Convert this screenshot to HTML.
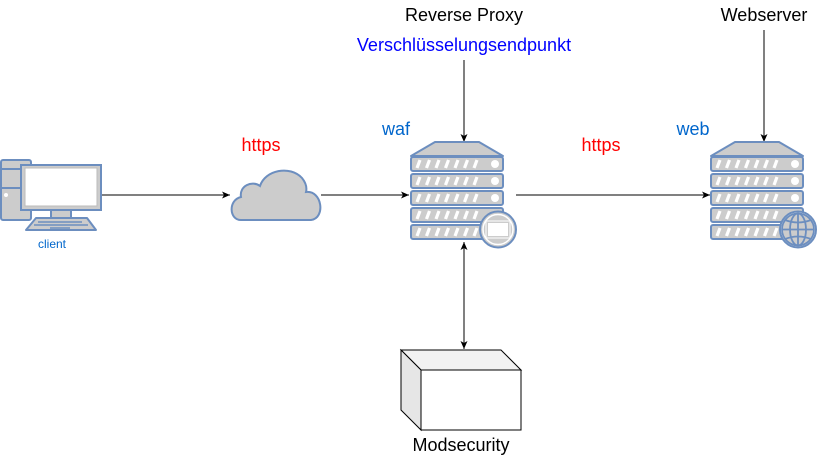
<!DOCTYPE html>
<html><head><meta charset="utf-8"><style>
html,body{margin:0;padding:0;background:#fff;}
svg{display:block;}
text{font-family:"Liberation Sans",Arial,sans-serif;}
</style></head><body>
<svg width="838" height="460" viewBox="0 0 838 460" xmlns="http://www.w3.org/2000/svg">
<defs>
<marker id="ah" markerWidth="10" markerHeight="10" refX="8" refY="5" orient="auto" markerUnits="userSpaceOnUse">
<path d="M0,1.5 L8,5 L0,8.5 L2,5 Z" fill="#000"/>
</marker>
<marker id="ahs" markerWidth="10" markerHeight="10" refX="2" refY="5" orient="auto" markerUnits="userSpaceOnUse">
<path d="M10,1.5 L2,5 L10,8.5 L8,5 Z" fill="#000"/>
</marker>
<g id="rack">
<rect x="0" y="0" width="92" height="14" rx="2" fill="#ccc" stroke="#6c8ebf" stroke-width="2"/>
<g stroke="#fff" stroke-width="3.2">
<line x1="6" y1="11" x2="9" y2="3"/><line x1="15.5" y1="11" x2="18.5" y2="3"/><line x1="25" y1="11" x2="28" y2="3"/><line x1="34.5" y1="11" x2="37.5" y2="3"/><line x1="44" y1="11" x2="47" y2="3"/><line x1="53.5" y1="11" x2="56.5" y2="3"/><line x1="63" y1="11" x2="66" y2="3"/>
</g>
<circle cx="84" cy="7" r="4" fill="#fff"/>
</g>
<g id="server">
<path d="M0,15 L24,1 L68,1 L92,15 Z" fill="#ccc" stroke="#6c8ebf" stroke-width="2" stroke-linejoin="round"/>
<use href="#rack" x="0" y="16"/>
<use href="#rack" x="0" y="33"/>
<use href="#rack" x="0" y="50"/>
<use href="#rack" x="0" y="67"/>
<use href="#rack" x="0" y="84"/>
</g>
</defs>

<!-- connectors -->
<line x1="101" y1="195" x2="230" y2="195" stroke="#000" stroke-width="1" marker-end="url(#ah)"/>
<line x1="321" y1="195" x2="409" y2="195" stroke="#000" stroke-width="1" marker-end="url(#ah)"/>
<line x1="516" y1="195" x2="710" y2="195" stroke="#000" stroke-width="1" marker-end="url(#ah)"/>
<line x1="464" y1="60" x2="464" y2="142" stroke="#000" stroke-width="1" marker-end="url(#ah)"/>
<line x1="764" y1="30" x2="764" y2="142" stroke="#000" stroke-width="1" marker-end="url(#ah)"/>
<line x1="464" y1="242" x2="464" y2="349" stroke="#000" stroke-width="1" marker-end="url(#ah)" marker-start="url(#ahs)"/>

<!-- client -->
<rect x="1" y="160" width="30" height="60" rx="2" fill="#ccc" stroke="#6c8ebf" stroke-width="2"/>
<line x1="1" y1="169" x2="31" y2="169" stroke="#6c8ebf" stroke-width="2"/>
<line x1="1" y1="188" x2="31" y2="188" stroke="#6c8ebf" stroke-width="2"/>
<circle cx="6" cy="195" r="2" fill="#fff"/>
<rect x="51" y="208" width="20" height="10" fill="#ccc" stroke="#6c8ebf" stroke-width="2"/>
<rect x="21" y="165" width="80" height="45" fill="#ccc" stroke="#6c8ebf" stroke-width="2"/>
<rect x="25" y="168" width="72" height="38" fill="#fff" stroke="#bbb" stroke-width="1"/>
<path d="M36,218 L87,218 L96,230 L26,230 Z" fill="#ccc" stroke="#6c8ebf" stroke-width="2" stroke-linejoin="round"/>
<g stroke="#6c8ebf" stroke-width="1.5">
<line x1="38" y1="222" x2="82" y2="222"/>
<line x1="34" y1="225" x2="88" y2="225"/>
<line x1="50" y1="228" x2="70" y2="228"/>
</g>
<text x="52" y="248" font-size="12" fill="#0066cc" text-anchor="middle">client</text>

<!-- cloud -->
<path d="M241,220 C229,220 228,200 241,197 C239,186 252,180 260,186 C265,170 290,165 302,178 C306,183 307,188 306,192 C322,190 326,218 311,220 Z" fill="#ccc" stroke="#6c8ebf" stroke-width="2"/>

<!-- waf server -->
<use href="#server" x="411" y="141"/>
<circle cx="498" cy="229.5" r="18" fill="#ccc" stroke="#6c8ebf" stroke-width="2"/>
<circle cx="498" cy="229.5" r="15" fill="none" stroke="#fff" stroke-width="1.5"/>
<rect x="487" y="222" width="22" height="15" fill="#fff" stroke="#ccc" stroke-width="2"/>
<rect x="486" y="221" width="24" height="17" fill="none" stroke="#fff" stroke-width="1"/>

<!-- web server -->
<use href="#server" x="711" y="141"/>
<g>
<circle cx="798" cy="229.5" r="18" fill="#fff" stroke="#6c8ebf" stroke-width="2"/>
<circle cx="798" cy="229.5" r="16" fill="#ccc" stroke="none"/>
<g fill="none" stroke="#6c8ebf" stroke-width="1.8">
<circle cx="798" cy="229.5" r="16"/>
<ellipse cx="798" cy="229.5" rx="8" ry="16"/>
<line x1="798" y1="213.5" x2="798" y2="245.5"/>
<line x1="782" y1="229.5" x2="814" y2="229.5"/>
<path d="M785,220 Q798,225 811,220"/>
<path d="M785,239 Q798,234 811,239"/>
</g>
</g>

<!-- modsecurity box -->
<path d="M401,350 L501,350 L521,370 L421,370 Z" fill="#f2f2f2" stroke="#000" stroke-width="1"/>
<path d="M401,350 L421,370 L421,430 L401,410 Z" fill="#e6e6e6" stroke="#000" stroke-width="1"/>
<rect x="421" y="370" width="100" height="60" fill="#fff" stroke="#000" stroke-width="1"/>

<!-- labels -->
<text x="464" y="21" font-size="18" fill="#000" text-anchor="middle">Reverse Proxy</text>
<text x="464" y="51" font-size="18" fill="#0000ff" text-anchor="middle">Verschlüsselungsendpunkt</text>
<text x="764" y="21" font-size="18" fill="#000" text-anchor="middle">Webserver</text>
<text x="261" y="151" font-size="18" fill="#ff0000" text-anchor="middle">https</text>
<text x="601" y="151" font-size="18" fill="#ff0000" text-anchor="middle">https</text>
<text x="396" y="135" font-size="18" fill="#0066cc" text-anchor="middle">waf</text>
<text x="693" y="135" font-size="18" fill="#0066cc" text-anchor="middle">web</text>
<text x="461" y="451" font-size="18" fill="#000" text-anchor="middle">Modsecurity</text>
</svg>
</body></html>
